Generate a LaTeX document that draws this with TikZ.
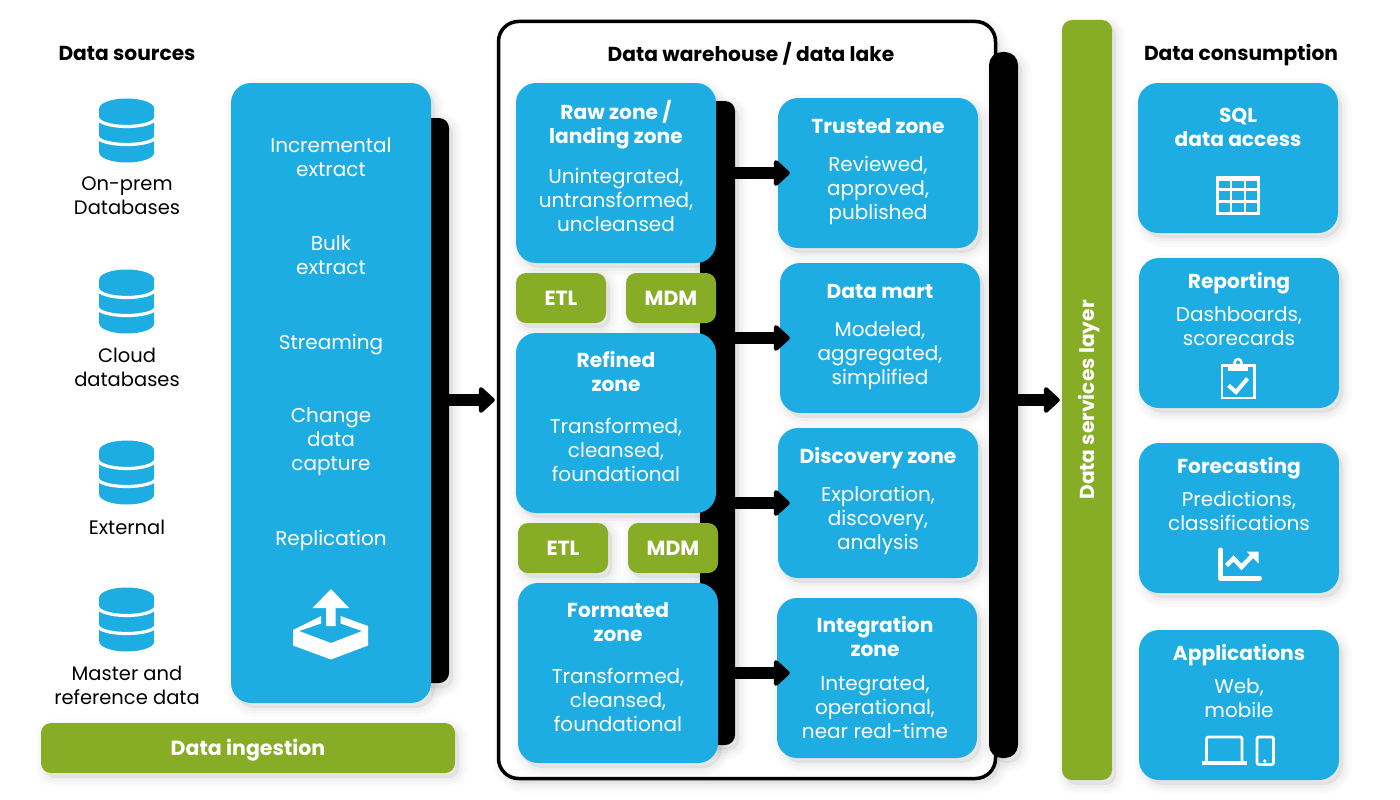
\documentclass[tikz,border=0pt]{standalone}
\usepackage{xcolor}
\usepackage{fontspec}
\setmainfont{Poppins}
\usetikzlibrary{arrows.meta, positioning, calc}

\definecolor{zoneblue}{HTML}{1DADE2}
\definecolor{barolive}{HTML}{87AD27}

\tikzset{
    softshadow/.style={
        preaction={draw=black, fill=black, opacity=.015, line width=18pt, transform canvas={xshift=4pt, yshift=-5pt}},
        preaction={draw=black, fill=black, opacity=.02, line width=12pt, transform canvas={xshift=4pt, yshift=-5pt}},
        preaction={draw=black, fill=black, opacity=.025, line width=6pt, transform canvas={xshift=4pt, yshift=-5pt}}},
    bluebox/.style={softshadow, fill=zoneblue, rounded corners=20pt, inner sep=0pt, minimum width=200pt},
    greenbox/.style={softshadow, fill=barolive, rounded corners=10pt, inner sep=0pt, text=white, text height=14.5pt, text depth=0pt, font=\fontsize{20.5}{24}\selectfont\bfseries},
    blackbar/.style={softshadow, fill=black, inner sep=0pt, rounded corners=10pt},
    blocktext/.style={align=center, inner sep=0pt, yshift=-3.5pt, execute at begin node=\strut, execute at end node=\strut},
    heading/.style={blocktext, font=\fontsize{20.2}{24}\selectfont\bfseries},
    boxtitle/.style={blocktext, text=white, font=\fontsize{20.2}{24}\selectfont\bfseries},
    boxbody/.style={blocktext, text=white, font=\fontsize{20}{24}\selectfont},
    sourcelabel/.style={blocktext, font=\fontsize{19.5}{24}\selectfont},
    bigarrow/.style={-{Triangle[length=17pt, width=30pt, line width=5pt, round]}, line width=12pt},
    iconline/.style={draw=white, line width=2.8pt},
    dbicon/.pic={
        \fill[zoneblue] (-27.5,-22) -- (-27.5,22) arc[start angle=180, end angle=0, x radius=27.5, y radius=10]
            -- (27.5,-22) arc[start angle=0, end angle=-180, x radius=27.5, y radius=10] -- cycle;
        \draw[white, line width=3.2pt] (-29,-13) arc[start angle=180, end angle=0, x radius=29, y radius=9];
        \draw[white, line width=3.2pt] (-29,6) arc[start angle=180, end angle=0, x radius=29, y radius=8];
    }
}

\begin{document}
\begin{tikzpicture}[x=1pt, y=-1pt]
    \useasboundingbox (0,0) rectangle (1400,800);

    % Headings
    \node[heading] (sourceshead) at (127,52) {Data sources};
    \node[heading] (consumehead) at (1241,52) {Data consumption};

    % Data sources
    \foreach \ypos in {130.5,301.5,472.5,619.5} {
        \pic at (126.7,\ypos) {dbicon};
    }
    \node[sourcelabel] (onprem) at (127,196) {On-prem\\Databases};
    \node[sourcelabel] (cloud) at (127,367) {Cloud\\databases};
    \node[sourcelabel] (external) at (127,526) {External};
    \node[sourcelabel] (master) at (127,685) {Master and\\reference data};

    % Ingestion column
    \node[blackbar, minimum width=30pt, minimum height=565pt] (ingestbar) at (434,400.5) {};
    \node[bluebox, minimum height=620pt] (ingest) at (331,393) {};
    \node[boxbody] (incremental) at (331,157) {Incremental\\extract};
    \node[boxbody] (bulk) at (331,255) {Bulk\\extract};
    \node[boxbody] (streaming) at (331,341) {Streaming};
    \node[boxbody] (change) at (331,439) {Change\\data\\capture};
    \node[boxbody] (replication) at (331,537) {Replication};
    \fill[white] (331,589) -- (349,608) -- (335.5,608) -- (335.5,626) -- (326,626) -- (326,608) -- (312.5,608) -- cycle;
    \fill[white] (293,630) -- (321,616) -- (321,623.5) -- (299,631) -- (331,643) -- (362,631) -- (340.5,623.5)
        -- (340.5,616) -- (368,626) -- (368,645.5) -- (331,659.5) -- (293,645.5) -- cycle;
    \node[greenbox, minimum width=414pt, minimum height=50pt] (ingestion) at (248,748) {Data ingestion};

    % Warehouse frame
    \node[draw=black, line width=3.5pt, fill=white, softshadow, rounded corners=20pt, minimum width=497pt, minimum height=757pt, inner sep=0pt] (warehouse) at (747,400) {};
    \node[heading] (warehousehead) at (751,52) {Data warehouse / data lake};
    \node[blackbar, minimum width=29pt, minimum height=706pt, rounded corners=13pt] (lakebar) at (1003.5,405) {};
    \node[blackbar, minimum width=35pt, minimum height=644pt] (zonebar) at (717.5,423) {};

    % Left zones
    \node[bluebox, minimum height=180pt] (raw) at (616,173) {};
    \node[boxtitle] (rawtitle) at (616,122) {Raw zone /\\landing zone};
    \node[boxbody] (rawbody) at (616,200) {Unintegrated,\\untransformed,\\uncleansed};
    \node[greenbox, minimum width=90pt, minimum height=50pt] (etlone) at (561,298) {ETL};
    \node[greenbox, minimum width=90pt, minimum height=50pt] (mdmone) at (671,298) {MDM};
    \node[bluebox, minimum height=180pt] (refined) at (616,423) {};
    \node[boxtitle] (refinedtitle) at (616,372) {Refined\\zone};
    \node[boxbody] (refinedbody) at (616,450) {Transformed,\\cleansed,\\foundational};
    \node[greenbox, minimum width=90pt, minimum height=50pt] (etltwo) at (563,548) {ETL};
    \node[greenbox, minimum width=90pt, minimum height=50pt] (mdmtwo) at (673,548) {MDM};
    \node[bluebox, minimum height=180pt] (formated) at (618,673) {};
    \node[boxtitle] (formatedtitle) at (618,622) {Formated\\zone};
    \node[boxbody] (formatedbody) at (618,700) {Transformed,\\cleansed,\\foundational};

    % Right zones
    \node[bluebox, minimum height=150pt] (trusted) at (878,173) {};
    \node[boxtitle] (trustedtitle) at (878,125) {Trusted zone};
    \node[boxbody] (trustedbody) at (878,188) {Reviewed,\\approved,\\published};
    \node[bluebox, minimum height=150pt] (mart) at (880,338) {};
    \node[boxtitle] (marttitle) at (880,290) {Data mart};
    \node[boxbody] (martbody) at (880,353) {Modeled,\\aggregated,\\simplified};
    \node[bluebox, minimum height=150pt] (discovery) at (878,503) {};
    \node[boxtitle] (discoverytitle) at (878,455) {Discovery zone};
    \node[boxbody] (discoverybody) at (878,518) {Exploration,\\discovery,\\analysis};
    \node[bluebox, minimum height=160pt] (integration) at (877,678) {};
    \node[boxtitle] (integrationtitle) at (875,637) {Integration\\zone};
    \node[boxbody] (integrationbody) at (875,707) {Integrated,\\operational,\\near real-time};

    % Services bar
    \node[greenbox, minimum width=50pt, minimum height=760pt] (services) at (1087,400) {};
    \node[boxtitle, rotate=90] (servicestext) at (1090,396.5) {Data services layer};

    % Consumption
    \node[bluebox, minimum height=150pt] (sql) at (1238,158) {};
    \node[boxtitle] (sqltitle) at (1238,127) {SQL\\data access};
    \draw[iconline] (1217.4,177.4) rectangle (1258.6,213.3);
    \draw[iconline] (1231,177) -- (1231,214) (1245,177) -- (1245,214) (1217,189.5) -- (1259,189.5) (1217,201.5) -- (1259,201.5);
    \fill[white] (1216,176) rectangle (1260,181);
    \node[bluebox, minimum height=150pt] (reporting) at (1239,333) {};
    \node[boxtitle] (reportingtitle) at (1239,280) {Reporting};
    \node[boxbody] (reportingbody) at (1239,326) {Dashboards,\\scorecards};
    \draw[iconline] (1228,365.4) -- (1222,365.4) -- (1222,398) -- (1254.5,398) -- (1254.5,365.4) -- (1248,365.4);
    \fill[white] (1228,364) rectangle (1248,371);
    \draw[white, line width=2.4pt] (1238,362.5) circle[radius=3.5];
    \draw[white, line width=4pt] (1228.5,385.5) -- (1236,392) -- (1247.5,378.5);
    \node[bluebox, minimum height=150pt] (forecasting) at (1239,518) {};
    \node[boxtitle] (forecastingtitle) at (1239,465) {Forecasting};
    \node[boxbody] (forecastingbody) at (1239,511) {Predictions,\\classifications};
    \draw[white, line width=5pt, line join=round, line cap=round] (1220.5,550) -- (1220.5,578) -- (1259.5,578);
    \draw[white, line width=4.5pt] (1226.5,565.5) -- (1233.5,558.5) -- (1241.5,567) -- (1252,556);
    \fill[white] (1246.5,551.5) -- (1258.5,551.5) -- (1258.5,563.5) -- cycle;
    \node[bluebox, minimum height=150pt] (applications) at (1239,705) {};
    \node[boxtitle] (applicationstitle) at (1239,652) {Applications};
    \node[boxbody] (applicationsbody) at (1239,698) {Web,\\mobile};
    \draw[iconline, rounded corners=2pt] (1206.5,761) -- (1206.5,737) -- (1242,737) -- (1242,761);
    \fill[white] (1201.5,761) rectangle (1247,765);
    \draw[iconline, rounded corners=2pt] (1257,737) rectangle (1273.5,764.5);
    \fill[white] (1264.7,761) circle[radius=1.8];

    % Arrows
    \draw[bigarrow, shorten >=2pt] (ingestbar.east |- warehouse.west) -- (warehouse.west);
    \draw[bigarrow, shorten >=-12pt] (zonebar.east |- trusted.west) -- (trusted.west);
    \draw[bigarrow, shorten >=-10pt] (zonebar.east |- mart.west) -- (mart.west);
    \draw[bigarrow, shorten >=-12pt] (zonebar.east |- discovery.west) -- (discovery.west);
    \draw[bigarrow, shorten >=-13pt] ([yshift=5pt]zonebar.east |- integration.west) -- ([yshift=5pt]integration.west);
    \draw[bigarrow, shorten >=2pt] (lakebar.east |- services.west) -- (services.west);
\end{tikzpicture}
\end{document}
